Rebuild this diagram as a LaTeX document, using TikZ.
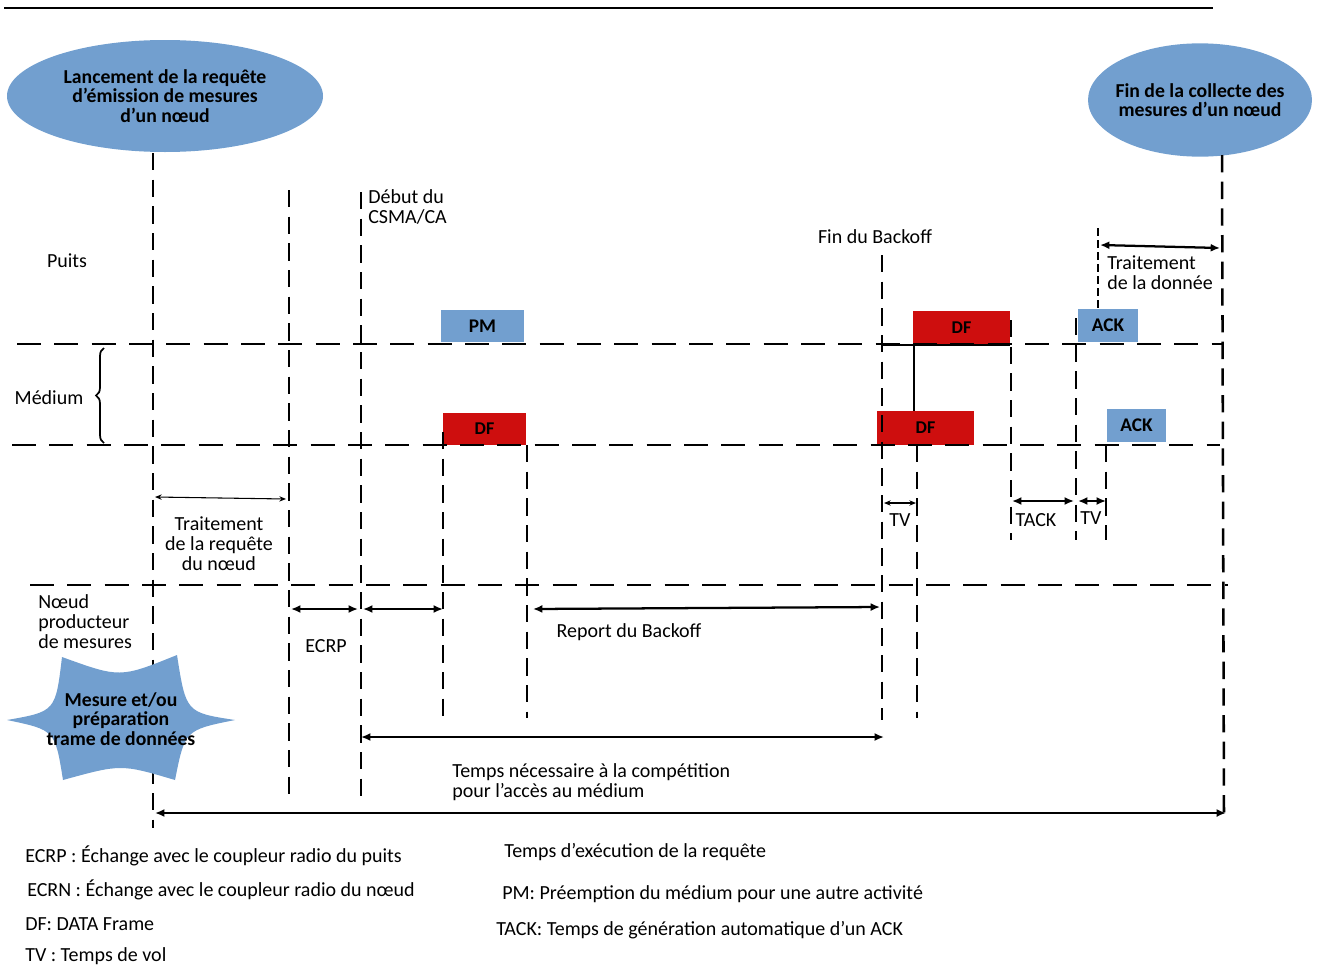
\documentclass[tikz,border=0pt]{standalone}
\usepackage{fontspec}
\setmainfont{Carlito}
\usetikzlibrary{arrows.meta,decorations.pathreplacing,shapes.geometric}
\definecolor{boxblue}{RGB}{114,159,207}
\definecolor{boxred}{RGB}{206,14,14}
\begin{document}
\begin{tikzpicture}[x=0.75pt,y=-0.75pt,
  hdash/.style={line width=2.2pt, dash pattern=on 18pt off 10pt},
  vdash/.style={line width=1.9pt, dash pattern=on 13pt off 7pt},
  thinvdash/.style={line width=0.8pt, dash pattern=on 6pt off 3pt},
  dim/.style={line width=1.7pt,{Latex[length=7pt,width=6pt]}-{Latex[length=7pt,width=6pt]}},
  thindim/.style={line width=0.8pt,{Stealth[length=5pt,width=4pt]}-{Stealth[length=5pt,width=4pt]}},
  lbl/.style={font=\fontsize{15}{15}\selectfont, inner sep=0pt},
  blbl/.style={font=\bfseries\fontsize{14.8}{14.6}\selectfont, align=center, inner sep=0pt},
  bluebox/.style={fill=boxblue, inner sep=0pt, font=\bfseries\fontsize{14.5}{14}\selectfont},
  redbox/.style={fill=boxred, inner sep=0pt, font=\bfseries\fontsize{13.5}{14}\selectfont},
  cloud/.style={ellipse, fill=boxblue, inner sep=0pt}
]
\useasboundingbox (0,0) rectangle (1319,967);

% top rule
\coordinate (r1) at (4,8); \coordinate (r2) at (1213,8);
\draw[line width=0.8pt] (r1) -- (r2);

% ellipses
\node[cloud, minimum width=237pt, minimum height=84pt] (start) at (165,96) {};
\node[blbl] (starttxt) at (start) {Lancement de la requête\\d’émission de mesures\\d’un nœud};
\node[cloud, minimum width=168pt, minimum height=85pt] (finish) at (1200,100) {};
\node[blbl] (finishtxt) at (finish) {Fin de la collecte des\\mesures d’un nœud};

% boxes
\node[bluebox, minimum width=62.25pt, minimum height=24pt] (pm) at (482.5,326) {PM};
\node[redbox, minimum width=62.25pt, minimum height=24pt] (df1) at (484.5,429) {DF};
\node[redbox, minimum width=72.75pt, minimum height=25.5pt] (df2) at (961.5,328) {DF};
\node[redbox, minimum width=72.75pt, minimum height=25.5pt] (df3) at (925.5,428) {DF};
\node[bluebox, minimum width=45pt, minimum height=24.75pt] (ack1) at (1108,325.5) {ACK};
\node[bluebox, minimum width=44.25pt, minimum height=24.75pt] (ack2) at (1136.5,425.5) {ACK};

% horizontal dashed lines
\coordinate (h1a) at (17,344);  \coordinate (h1b) at (1222,344);
\coordinate (h2a) at (12,445);  \coordinate (h2b) at (1220,445);
\coordinate (h3a) at (30,585);  \coordinate (h3b) at (1228,585);
\draw[hdash] (h1a) -- (h1b);
\draw[hdash] (h2a) -- (h2b);
\draw[hdash] (h3a) -- (h3b);

% vertical dashed lines
\coordinate (v1a) at (153,153);  \coordinate (v1b) at (153,828);
\coordinate (v2a) at (289,190);  \coordinate (v2b) at (289,800);
\coordinate (v3a) at (361,192);  \coordinate (v3b) at (361,800);
\coordinate (v4a) at (443,432);  \coordinate (v4b) at (443,720);
\coordinate (v5a) at (527,445);  \coordinate (v5b) at (527,718);
\coordinate (v6a) at (882,255);  \coordinate (v6b) at (882,720);
\coordinate (v7a) at (917,445);  \coordinate (v7b) at (917,718);
\coordinate (v8a) at (1011,320); \coordinate (v8b) at (1011,540);
\coordinate (v9a) at (1076,318); \coordinate (v9b) at (1076,540);
\coordinate (v10a) at (1106,445); \coordinate (v10b) at (1106,540);
\coordinate (v11a) at (1098,228); \coordinate (v11b) at (1098,310);
\coordinate (v12a) at (1222,155); \coordinate (v12b) at (1224,820);
\foreach \v in {1,...,10,12} \draw[vdash] (v\v a) -- (v\v b);
\draw[thinvdash] (v11a) -- (v11b);

% solid parts near DF frames
\coordinate (s1) at (882,345); \coordinate (s2) at (1010,345);
\coordinate (s3) at (914,345); \coordinate (s4) at (914,411);
\draw[line width=2.2pt] (s1) -- (s2);
\draw[line width=2pt] (s3) -- (s4);

% starburst
\path[fill=boxblue] (7,720) .. controls (55.5,711.5) .. (62,657)
  .. controls (120,678) .. (177,655)
  .. controls (186,712.5) .. (235,720)
  .. controls (185,730) .. (175,780)
  .. controls (121,764) .. (63,780)
  .. controls (55,730) .. (7,720) -- cycle;
\node[blbl] (burst) at (121,719) {Mesure et/ou\\préparation\\trame de données};

% brace
\coordinate (b1) at (104,443); \coordinate (b2) at (104,348);
\draw[line width=1.3pt, decorate, decoration={brace, amplitude=6pt}] (b1) -- (b2);

% dimension arrows
\coordinate (a1a) at (155,497);  \coordinate (a1b) at (286,499);
\coordinate (a2a) at (291,609);  \coordinate (a2b) at (358,609);
\coordinate (a3a) at (363,609);  \coordinate (a3b) at (443,609);
\coordinate (a4a) at (533,609);  \coordinate (a4b) at (880,607);
\coordinate (a5a) at (361,737);  \coordinate (a5b) at (884,737);
\coordinate (a6a) at (155,813);  \coordinate (a6b) at (1226,813);
\coordinate (a7a) at (884,503);  \coordinate (a7b) at (916,503);
\coordinate (a8a) at (1012,501); \coordinate (a8b) at (1074,501);
\coordinate (a9a) at (1078,501); \coordinate (a9b) at (1106,501);
\coordinate (a10a) at (1100,245); \coordinate (a10b) at (1220,248);
\draw[thindim] (a1a) -- (a1b);
\draw[dim] (a2a) -- (a2b);
\draw[dim] (a3a) -- (a3b);
\draw[dim] (a4a) -- (a4b);
\draw[dim] (a5a) -- (a5b);
\draw[dim] (a6a) -- (a6b);
\draw[thindim] (a7a) -- (a7b);
\draw[dim] (a8a) -- (a8b);
\draw[dim] (a9a) -- (a9b);
\draw[dim] (a10a) -- (a10b);

% labels
\node[lbl, anchor=west, align=left] (debut) at (368,207) {Début du\\CSMA/CA};
\node[lbl] (finbo) at (875,237) {Fin du Backoff};
\node[lbl] (puits) at (67,261) {Puits};
\node[lbl] (medium) at (49,398) {Médium};
\node[lbl, anchor=west, align=left] (noeud) at (38,622) {Nœud\\producteur\\de mesures};
\node[lbl, align=center] (treq) at (219,544) {Traitement\\de la requête\\du nœud};
\node[lbl] (ecrp) at (326,646) {ECRP};
\node[lbl] (report) at (629,632) {Report du Backoff};
\node[lbl, anchor=west, align=left] (tcomp) at (452,782) {Temps nécessaire à la compétition\\pour l’accès au médium};
\node[lbl] (tv1) at (900,520) {TV};
\node[lbl] (tack) at (1036,520) {TACK};
\node[lbl] (tv2) at (1091,518) {TV};
\node[lbl, anchor=west, align=left] (tdon) at (1107,273) {Traitement\\de la donnée};

% legend
\node[lbl, anchor=west] (l1) at (25,856) {ECRP : Échange avec le coupleur radio du puits};
\node[lbl, anchor=west] (l2) at (27,890) {ECRN : Échange avec le coupleur radio du nœud};
\node[lbl, anchor=west] (l3) at (25,924) {DF: DATA Frame};
\node[lbl, anchor=west] (l4) at (25,956) {TV : Temps de vol};
\node[lbl, anchor=west] (l5) at (504,852) {Temps d’exécution de la requête};
\node[lbl, anchor=west] (l6) at (502,894) {PM: Préemption du médium pour une autre activité};
\node[lbl, anchor=west] (l7) at (496,930) {TACK: Temps de génération automatique d’un ACK};
\end{tikzpicture}
\end{document}
